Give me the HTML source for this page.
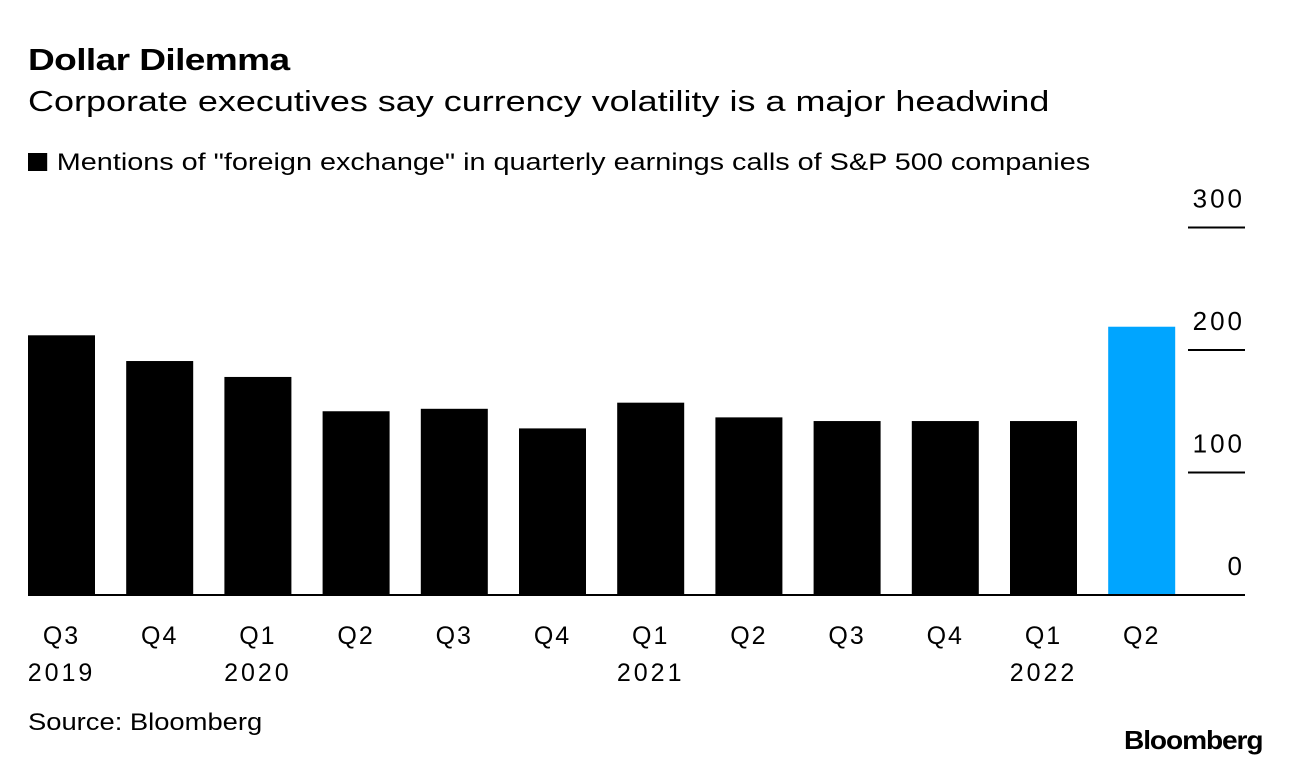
<!DOCTYPE html>
<html><head><meta charset="utf-8"><style>
body{margin:0;width:1292px;height:764px;background:#fff;font-family:"Liberation Sans",sans-serif;overflow:hidden;position:relative}
.t{position:absolute;white-space:nowrap;color:#000;transform-origin:0 0}
</style></head><body>
<div class="t" style="left:28px;top:42px;font-size:31px;font-weight:bold;letter-spacing:-0.5px;transform:scaleX(1.196)">Dollar Dilemma</div>
<div class="t" style="left:28px;top:86px;font-size:29px;transform:scaleX(1.24)">Corporate executives say currency volatility is a major headwind</div>
<div class="t" style="left:28px;top:149px;font-size:24px;transform:scaleX(1.2)"><span style="display:inline-block;width:16px;height:18px;background:#000;margin-right:8px;vertical-align:-1px"></span>Mentions of "foreign exchange" in quarterly earnings calls of S&amp;P 500 companies</div>
<svg id="chart" width="1292" height="764" style="position:absolute;left:0;top:0"></svg>
<div class="t" style="left:28px;top:709px;font-size:24px;transform:scaleX(1.14)">Source: Bloomberg</div>
<div class="t" style="left:1124px;top:725px;font-size:26px;font-weight:bold;letter-spacing:-1px;transform:scaleX(1.08)">Bloomberg</div>
<script>
const categories=["Q3","Q4","Q1","Q2","Q3","Q4","Q1","Q2","Q3","Q4","Q1","Q2"];
const years=["2019","","2020","","","","2021","","","","2022",""];
const values=[212,191,178,150,152,136,157,145,142,142,142,219];
const ticks=[0,100,200,300];
const ns="http://www.w3.org/2000/svg",svg=document.getElementById("chart");
const y0=595,ppu=1.225,x0=28,step=98.2,bw=67;
const y=v=>y0-v*ppu, x=i=>x0+i*step;
function mk(t,a){const e=document.createElementNS(ns,t);for(const k in a)e.setAttribute(k,a[k]);svg.appendChild(e);return e;}
values.forEach((v,i)=>{
 const r=mk("rect",{x:x(i),y:y(v),width:bw,height:v*ppu,fill:i==values.length-1?"#00a5ff":"#000"});
 
 
 const t=mk("text",{x:x(i)+bw/2,y:644,"text-anchor":"middle","font-size":25,"letter-spacing":2});t.textContent=categories[i];
 
 
 if(years[i]){const t2=mk("text",{x:x(i)+bw/2,y:681,"text-anchor":"middle","font-size":25,"letter-spacing":3});t2.textContent=years[i];
 
 }
});
ticks.forEach(v=>{
 if(v>0){const l=mk("line",{x1:1188,x2:1245,y1:y(v),y2:y(v),stroke:"#000","stroke-width":2});
 
 }
 const t=mk("text",{x:1245,y:y(v)-20,"text-anchor":"end","font-size":26,"letter-spacing":3});t.textContent=v;
 
 
});
const b=mk("line",{x1:28,x2:1245,y1:y0,y2:y0,stroke:"#000","stroke-width":2});


</script>
</body></html>
